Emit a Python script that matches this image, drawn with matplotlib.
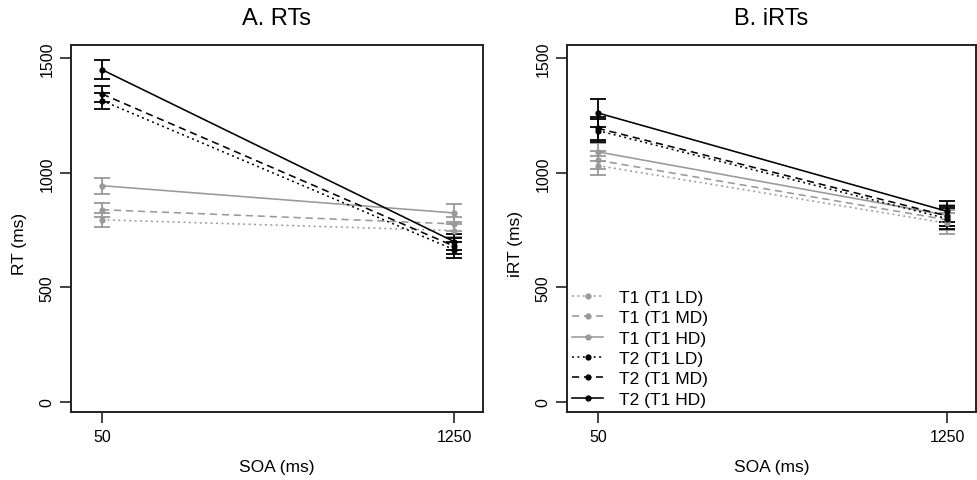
import matplotlib
matplotlib.use("Agg")
import matplotlib.pyplot as plt

plt.rcParams['font.family'] = ['Liberation Sans', 'DejaVu Sans']

soa = [50, 1250]
series = ["T1 (T1 LD)", "T1 (T1 MD)", "T1 (T1 HD)", "T2 (T1 LD)", "T2 (T1 MD)", "T2 (T1 HD)"]

rt_means = {
    "T1 (T1 LD)": [795, 748],
    "T1 (T1 MD)": [839, 777],
    "T1 (T1 HD)": [944, 825],
    "T2 (T1 LD)": [1316, 665],
    "T2 (T1 MD)": [1345, 680],
    "T2 (T1 HD)": [1451, 700],
}
rt_err = {
    "T1 (T1 LD)": [30, 30],
    "T1 (T1 MD)": [30, 30],
    "T1 (T1 HD)": [35, 40],
    "T2 (T1 LD)": [35, 35],
    "T2 (T1 MD)": [35, 35],
    "T2 (T1 HD)": [42, 35],
}
irt_means = {
    "T1 (T1 LD)": [1032, 780],
    "T1 (T1 MD)": [1055, 795],
    "T1 (T1 HD)": [1092, 815],
    "T2 (T1 LD)": [1185, 800],
    "T2 (T1 MD)": [1195, 812],
    "T2 (T1 HD)": [1262, 832],
}
irt_err = {
    "T1 (T1 LD)": [40, 45],
    "T1 (T1 MD)": [40, 45],
    "T1 (T1 HD)": [40, 45],
    "T2 (T1 LD)": [50, 45],
    "T2 (T1 MD)": [50, 45],
    "T2 (T1 HD)": [60, 45],
}

yticks = [0, 500, 1000, 1500]
xticks = [50, 1250]

colors = {s: ('#999999' if s.startswith('T1') else 'black') for s in series}
styles = {"LD": (0, (1.2, 2.2)), "MD": (0, (4.5, 3)), "HD": '-'}

W, H = 978, 481
fig = plt.figure(figsize=(W / 100, H / 100), dpi=100)

def make_ax(x0, x1, y0, y1):
    return fig.add_axes([x0 / W, 1 - y1 / H, (x1 - x0) / W, (y1 - y0) / H])

axA = make_ax(71, 483, 46, 413)
axB = make_ax(567, 976, 46, 413)

def draw(ax, means, errs, title, ylabel, legend=False):
    handles = []
    for s in series:
        cond = s.split()[-1].strip(')')
        c = colors[s]
        ax.errorbar(soa, means[s], yerr=errs[s], fmt='none', ecolor=c,
                    elinewidth=1.3, capsize=5.5, capthick=1.3, zorder=2)
        ln, = ax.plot(soa, means[s], color=c, linestyle=styles[cond], lw=1.15,
                      marker='o', markersize=4.5, markeredgewidth=0, label=s, zorder=3)
        handles.append(ln)
    ax.set_xlim(-56, 1349)
    ax.set_ylim(-45, 1559)
    ax.set_xticks(xticks)
    ax.set_xticklabels([str(v) for v in xticks])
    ax.set_yticks(yticks)
    ax.set_yticklabels([str(v) for v in yticks], rotation=90, va='center')
    ax.tick_params(direction='out', length=8, width=1.2, labelsize=11.5, pad=4, color='#222222')
    for sp in ax.spines.values():
        sp.set_linewidth(1.4)
        sp.set_color('#222222')
    ax.set_title(title, fontsize=17, pad=15)
    ax.set_xlabel("SOA (ms)", fontsize=12.5, labelpad=11)
    ax.set_ylabel(ylabel, fontsize=12.5, labelpad=8)
    ax.yaxis.set_label_coords(-0.108, 0.46)
    if legend:
        ax.legend(handles=handles, loc='lower left', frameon=False, fontsize=12.5,
                  handlelength=1.8, handletextpad=0.9, labelspacing=0.3,
                  borderaxespad=0.1, borderpad=0.2, bbox_to_anchor=(0.0, 0.0))

draw(axA, rt_means, rt_err, "A. RTs", "RT (ms)")
draw(axB, irt_means, irt_err, "B. iRTs", "iRT (ms)", legend=True)

fig.savefig("out.png", dpi=100)
